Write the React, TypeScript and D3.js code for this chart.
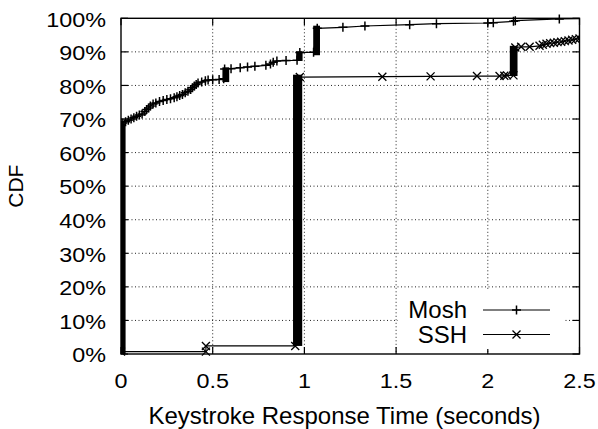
import React from "react";
import * as d3 from "d3";

const W = 598;
const H = 429;

const xTicks = [0, 0.5, 1, 1.5, 2, 2.5];
const xTickLabels = ["0", "0.5", "1", "1.5", "2", "2.5"];
const yTicks = [0, 10, 20, 30, 40, 50, 60, 70, 80, 90, 100];
const yTickLabels = ["0%", "10%", "20%", "30%", "40%", "50%", "60%", "70%", "80%", "90%", "100%"];

// Mosh CDF: [seconds, percent]
const moshX = [0, 0, 0.01, 0.025, 0.04, 0.055, 0.07, 0.085, 0.1, 0.115, 0.13, 0.14, 0.15, 0.16, 0.175, 0.19, 0.21, 0.23, 0.25, 0.27, 0.29, 0.305, 0.32, 0.335, 0.35, 0.365, 0.38, 0.39, 0.4, 0.41, 0.42, 0.44, 0.46, 0.475, 0.5, 0.535, 0.56, 0.565, 0.6, 0.65, 0.69, 0.73, 0.79, 0.815, 0.83, 0.85, 0.9, 0.96, 0.975, 1.05, 1.07, 1.21, 1.33, 1.574, 1.72, 2.0, 2.03, 2.14, 2.15, 2.39, 2.6];
const moshY = [0, 68.5, 68.8, 69.2, 69.6, 70.0, 70.4, 70.8, 71.2, 71.5, 72.2, 72.8, 73.3, 73.9, 74.5, 74.8, 75.2, 75.5, 75.8, 76.0, 76.3, 76.6, 77.0, 77.3, 77.8, 78.3, 78.8, 79.3, 79.8, 80.3, 80.7, 81.0, 81.4, 81.6, 81.7, 81.8, 82.0, 84.9, 85.0, 85.3, 85.5, 85.7, 86.0, 86.4, 86.9, 87.3, 87.4, 87.5, 89.8, 89.9, 97.0, 97.3, 97.7, 98.1, 98.4, 98.6, 98.7, 99.1, 99.3, 99.8, 99.95];
// dense runs of Mosh samples (many overlapping markers)
const moshRunX0 = [-0.015, 0.553, 0.955, 1.048];
const moshRunX1 = [0.025, 0.59, 0.99, 1.085];
const moshRunY0 = [0, 81.0, 87.3, 89.0];
const moshRunY1 = [68.5, 85.4, 90.2, 97.8];

// SSH CDF: [seconds, percent]
const sshX = [0, 0, 0.463, 0.463, 0.95, 0.975, 1.425, 1.688, 1.941, 2.064, 2.09, 2.105, 2.14, 2.15, 2.182, 2.228, 2.282, 2.3, 2.32, 2.34, 2.36, 2.38, 2.4, 2.42, 2.44, 2.46, 2.48, 2.5, 2.55];
const sshY = [0, 0.7, 0.7, 2.4, 2.4, 82.5, 82.6, 82.7, 82.8, 82.8, 82.9, 83.0, 83.0, 91.3, 91.5, 91.5, 91.8, 92.1, 92.4, 92.6, 92.7, 92.9, 93.0, 93.2, 93.4, 93.6, 93.8, 94.0, 94.3];
const sshRunX0 = [0.938, 2.12];
const sshRunX1 = [0.988, 2.162];
const sshRunY0 = [2.4, 82.8];
const sshRunY1 = [83.2, 91.8];

const seriesNames = ["Mosh", "SSH"];

const M = { left: 121, right: 579.5, top: 18.3, bottom: 354 };

export default function App() {
  const x = d3.scaleLinear().domain([0, 2.5]).range([M.left, M.right]);
  const y = d3.scaleLinear().domain([0, 100]).range([M.bottom, M.top]);

  const line = d3
    .line<[number, number]>()
    .x((d) => x(d[0]))
    .y((d) => y(d[1]));

  const mosh: [number, number][] = moshX.map((v, i) => [v, moshY[i]]);
  const ssh: [number, number][] = sshX.map((v, i) => [v, sshY[i]]);

  const plus = (cx: number, cy: number, s = 4.5) =>
    `M${cx - s},${cy}H${cx + s}M${cx},${cy - s}V${cy + s}`;
  const cross = (cx: number, cy: number, s = 4) =>
    `M${cx - s},${cy - s}L${cx + s},${cy + s}M${cx - s},${cy + s}L${cx + s},${cy - s}`;

  const font = "'Liberation Sans', Arial, Helvetica, sans-serif";
  const tickFs = 20.5;
  const stretch = 1.14;

  const legendX0 = 483;
  const legendX1 = 550;

  return (
    <div style={{ position: "fixed", left: 0, top: 0, background: "#fff" }}>
      <svg width={W} height={H} viewBox={`0 0 ${W} ${H}`} style={{ display: "block" }}>
        <rect width={W} height={H} fill="#fff" />
        <defs>
          <clipPath id="plotclip">
            <rect x={M.left} y={M.top - 6} width={M.right - M.left} height={M.bottom - M.top + 12} />
          </clipPath>
        </defs>

        {/* grid */}
        {yTicks.slice(1, -1).map((t) => (
          <line key={"gy" + t} x1={M.left} x2={M.right} y1={y(t)} y2={y(t)} stroke="#222" strokeWidth={1} strokeDasharray="1,2.5" />
        ))}
        {xTicks.slice(1, -1).map((t) => (
          <line key={"gx" + t} x1={x(t)} x2={x(t)} y1={M.top} y2={M.bottom} stroke="#222" strokeWidth={1} strokeDasharray="1,2.5" />
        ))}

        {/* ticks (mirrored) */}
        {yTicks.map((t) => (
          <g key={"ty" + t}>
            <line x1={M.left} x2={M.left + 7} y1={y(t)} y2={y(t)} stroke="#000" strokeWidth={1.2} />
            <line x1={M.right} x2={M.right - 7} y1={y(t)} y2={y(t)} stroke="#000" strokeWidth={1.2} />
          </g>
        ))}
        {xTicks.map((t) => (
          <g key={"tx" + t}>
            <line x1={x(t)} x2={x(t)} y1={M.bottom} y2={M.bottom - 7} stroke="#000" strokeWidth={1.2} />
            <line x1={x(t)} x2={x(t)} y1={M.top} y2={M.top + 7} stroke="#000" strokeWidth={1.2} />
          </g>
        ))}

        {/* legend box (opaque) */}
        <rect x={398} y={291} width={167} height={58} fill="#fff" />

        {/* data */}
        <g clipPath="url(#plotclip)">
          {/* SSH */}
          <path d={line(ssh) || ""} fill="none" stroke="#000" strokeWidth={1.2} />
          {sshRunX0.map((v, i) => (
            <rect key={"sr" + i} x={x(v)} width={x(sshRunX1[i]) - x(v)} y={y(sshRunY1[i])} height={y(sshRunY0[i]) - y(sshRunY1[i])} fill="#000" />
          ))}
          {ssh.slice(1).map((d, i) => (
            <path key={"sm" + i} d={cross(x(d[0]), y(d[1]))} stroke="#000" strokeWidth={1.3} fill="none" />
          ))}
          {/* Mosh */}
          <path d={line(mosh) || ""} fill="none" stroke="#000" strokeWidth={1.2} />
          {moshRunX0.map((v, i) => (
            <rect key={"mr" + i} x={x(v)} width={x(moshRunX1[i]) - x(v)} y={y(moshRunY1[i])} height={y(moshRunY0[i]) - y(moshRunY1[i])} fill="#000" />
          ))}
          {mosh.slice(1).map((d, i) => (
            <path key={"mm" + i} d={plus(x(d[0]), y(d[1]))} stroke="#000" strokeWidth={1.5} fill="none" />
          ))}
        </g>

        {/* border */}
        <rect x={M.left} y={M.top} width={M.right - M.left} height={M.bottom - M.top} fill="none" stroke="#000" strokeWidth={1.4} />

        {/* y tick labels */}
        {yTicks.map((t, i) => (
          <text
            key={"yl" + t}
            transform={`translate(106,${y(t) + 8.3}) scale(${stretch},1)`}
            textAnchor="end"
            fontFamily={font}
            fontSize={tickFs}
            fill="#000"
          >
            {yTickLabels[i]}
          </text>
        ))}
        {/* x tick labels */}
        {xTicks.map((t, i) => (
          <text
            key={"xl" + t}
            transform={`translate(${x(t)},387.5) scale(${stretch},1)`}
            textAnchor="middle"
            fontFamily={font}
            fontSize={tickFs}
            fill="#000"
          >
            {xTickLabels[i]}
          </text>
        ))}

        {/* axis titles */}
        <text x={344.5} y={423.5} textAnchor="middle" fontFamily={font} fontSize={24} fill="#000">
          Keystroke Response Time (seconds)
        </text>
        <text
          transform={`translate(22.5,${(M.top + M.bottom) / 2}) rotate(-90)`}
          textAnchor="middle"
          fontFamily={font}
          fontSize={21}
          fill="#000"
        >
          CDF
        </text>

        {/* legend */}
        <text x={467} y={318} textAnchor="end" fontFamily={font} fontSize={24} fill="#000">
          {seriesNames[0]}
        </text>
        <line x1={legendX0} x2={legendX1} y1={310} y2={310} stroke="#000" strokeWidth={1.2} />
        <path d={plus((legendX0 + legendX1) / 2, 310)} stroke="#000" strokeWidth={1.5} fill="none" />
        <text x={467} y={342.5} textAnchor="end" fontFamily={font} fontSize={24} fill="#000">
          {seriesNames[1]}
        </text>
        <line x1={legendX0} x2={legendX1} y1={334.5} y2={334.5} stroke="#000" strokeWidth={1.2} />
        <path d={cross((legendX0 + legendX1) / 2, 334.5)} stroke="#000" strokeWidth={1.3} fill="none" />
      </svg>
    </div>
  );
}
